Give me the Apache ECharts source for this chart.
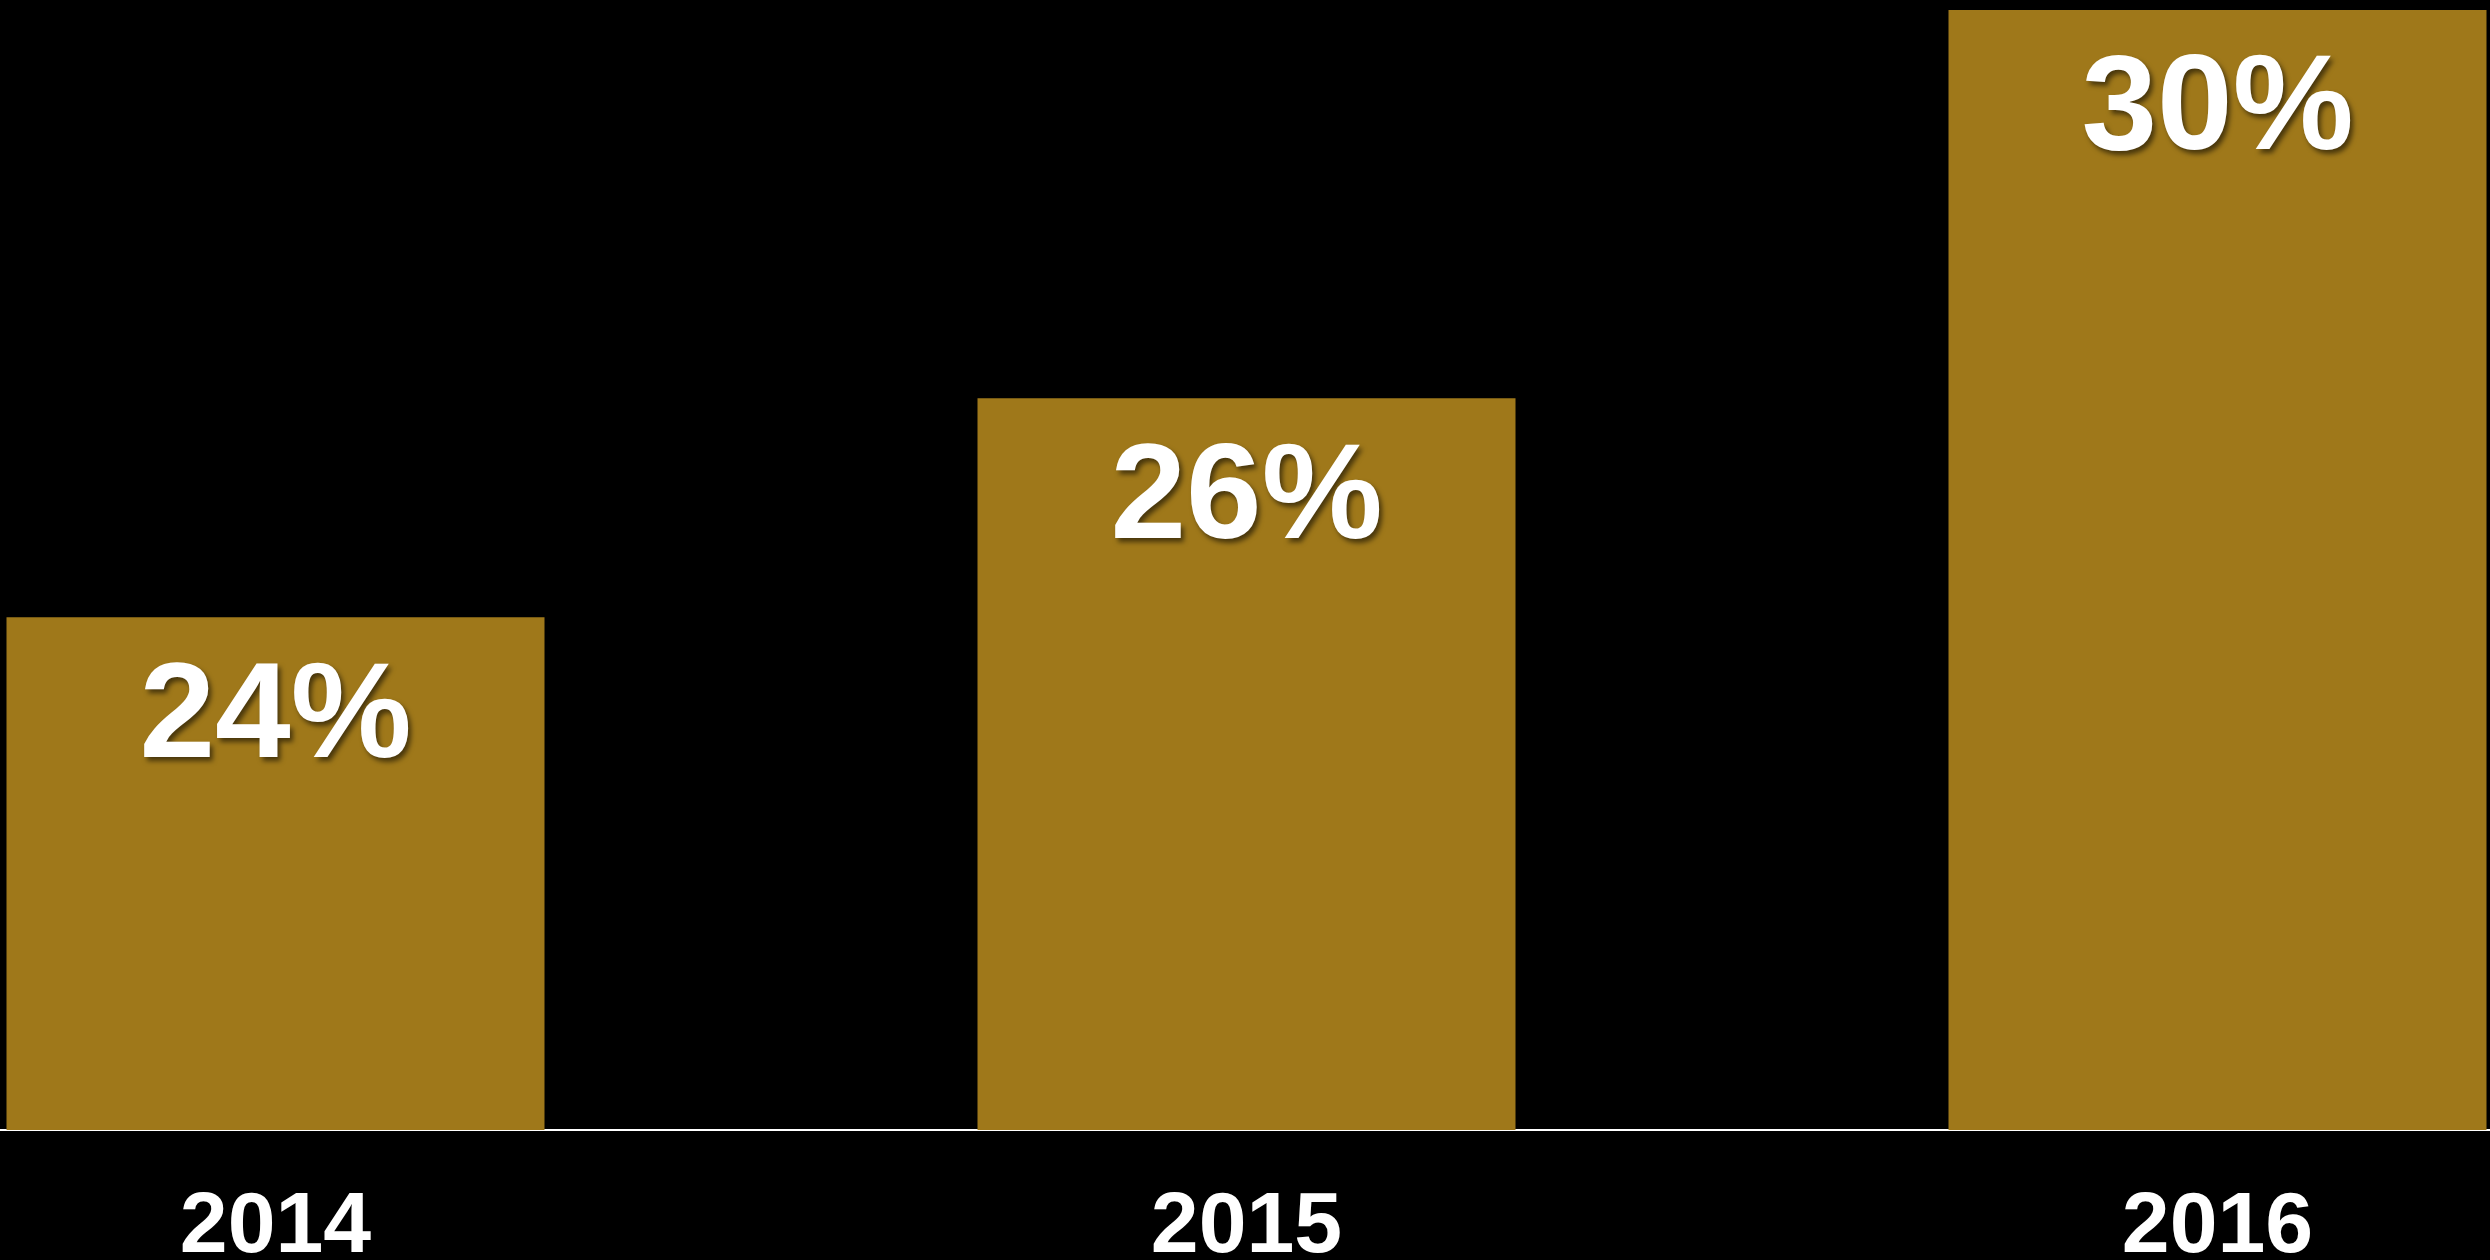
<!DOCTYPE html>
<html>
<head>
<meta charset="utf-8">
<style>
  html, body { margin: 0; padding: 0; background: #000; }
  #main { width: 2490px; height: 1260px; }
</style>
<script src="https://cdn.jsdelivr.net/npm/echarts@6/dist/echarts.min.js"></script>
</head>
<body>
<div id="main"></div>
<script>
// years on the x axis
var years = ['2014', '2015', '2016'];
// share per year, percent (labels show them rounded)
var shares = [23.8, 26.0, 29.9];

var chart = echarts.init(document.getElementById('main'), null, { renderer: 'canvas' });

var option = {
  backgroundColor: '#000',
  animation: false,
  grid: {
    left: -210,
    right: -213,
    top: 0,
    bottom: 130,
    containLabel: false,
    outerBoundsMode: 'none'
  },
  xAxis: {
    type: 'category',
    data: years,
    axisLine: { show: true, lineStyle: { color: '#fff', width: 2 } },
    axisTick: { show: false },
    axisLabel: {
      color: '#fff',
      fontFamily: 'Liberation Sans, Arial, sans-serif',
      fontWeight: 'bold',
      fontSize: 86,
      margin: 55
    }
  },
  yAxis: {
    type: 'value',
    min: 18.65,
    max: 30,
    show: false,
    splitLine: { show: false }
  },
  series: [{
    type: 'bar',
    data: shares,
    barWidth: 538,
    itemStyle: { color: '#9f781a' },
    label: {
      show: true,
      position: 'insideTop',
      distance: 34,
      color: '#fff',
      fontFamily: 'Liberation Sans, Arial, sans-serif',
      fontWeight: 'bold',
      fontSize: 136,
      textShadowColor: 'rgba(0,0,0,0.55)',
      textShadowBlur: 5,
      textShadowOffsetX: 3,
      textShadowOffsetY: 4,
      formatter: function (p) {
        return Math.round(p.value) + '%';
      }
    }
  }]
};

chart.setOption(option);
</script>
</body>
</html>
